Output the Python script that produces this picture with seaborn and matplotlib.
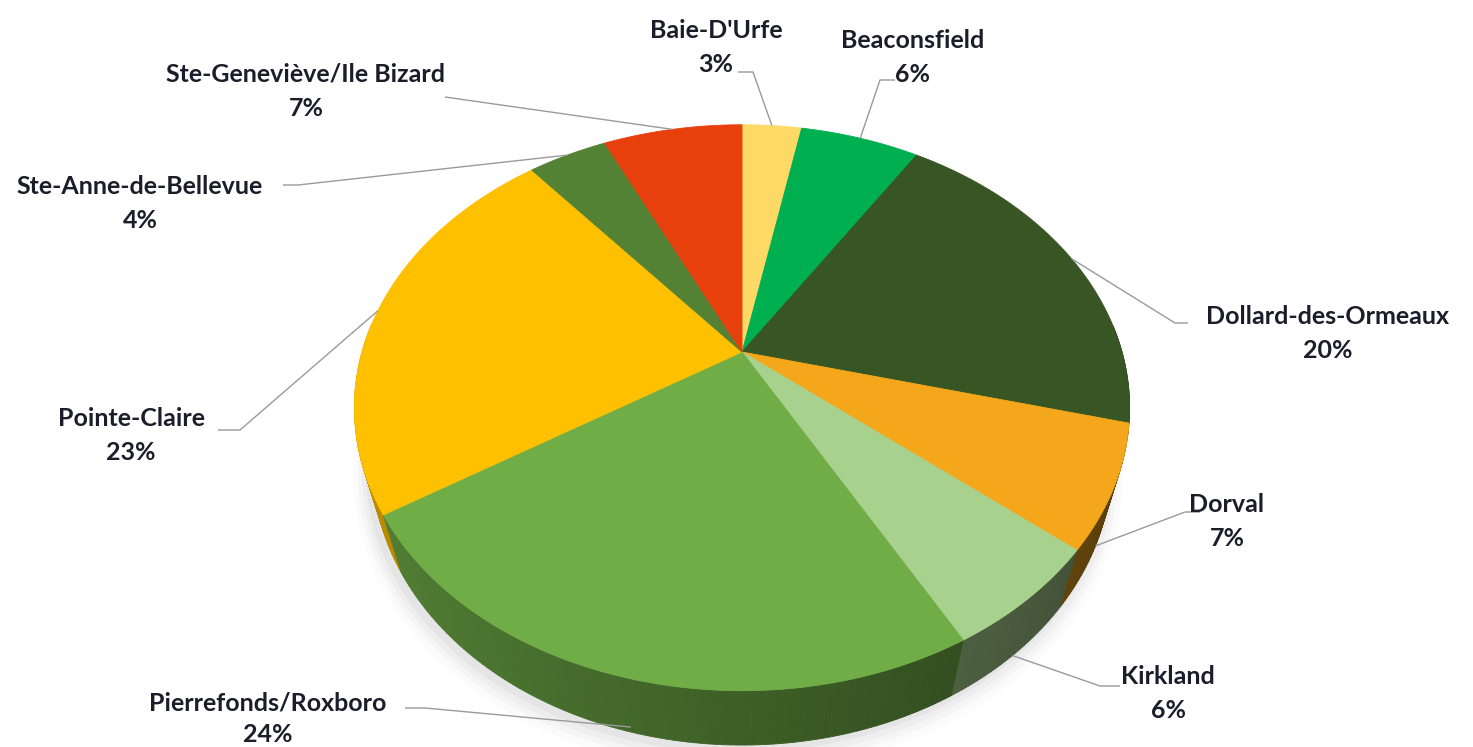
import numpy as np
import matplotlib
matplotlib.use("Agg")
import matplotlib.pyplot as plt
import seaborn as sns

# --- data ---
districts = ["Baie-D'Urfe", "Beaconsfield", "Dollard-des-Ormeaux", "Dorval", "Kirkland",
             "Pierrefonds/Roxboro", "Pointe-Claire", "Ste-Anne-de-Bellevue",
             "Ste-Geneviève/Ile Bizard"]
shares = [3, 6, 20, 7, 6, 24, 23, 4, 7]
slice_colors = ["#FFD966", "#00B050", "#375623", "#F4A71A", "#A9D18E",
                "#70AD47", "#FFC000", "#548235", "#E8400C"]

# --- label layout (pixel coords): text centre, leader start, leader elbow, anchor depth ---
label_layout = {
    "Baie-D'Urfe": ((716, 30), (738, 72), (753, 72), 0.0),
    "Beaconsfield": ((913, 40), (895, 80), (880, 80), 0.0),
    "Dollard-des-Ormeaux": ((1328, 316), (1188, 323), (1175, 323), 0.0),
    "Dorval": ((1227, 505), (1200, 512), (1185, 512), 1.0),
    "Kirkland": ((1168, 677), (1120, 686), (1100, 686), 1.0),
    "Pierrefonds/Roxboro": ((268, 703), (405, 708), (425, 708), 0.9),
    "Pointe-Claire": ((131, 418), (218, 430), (240, 430), 0.0),
    "Ste-Anne-de-Bellevue": ((140, 186), (283, 185), (298, 185), 0.0),
    "Ste-Geneviève/Ile Bizard": ((306, 74), (445, 97), (445, 97), 0.0),
}

W, H = 1473, 747
CX, CY = 742, 352          # apex of the pie
RX, RY = 380, 272          # radii of the tilted disc
K = 0.197                  # perspective strength
Q = 0.0475                 # extra distance of the bottom face
DROP = 62.3                # thickness of the pie


def project(theta, depth=0.0):
    u, v = np.cos(theta), np.sin(theta)
    s = 1.0 + K * v + Q * depth
    return CX + RX * u / s, CY - (RY * v - DROP * depth) / s


sns.set_theme(style="white")
plt.rcParams['font.family'] = ['Lato', 'DejaVu Sans']
palette = sns.color_palette(slice_colors)

fig = plt.figure(figsize=(W / 100, H / 100), dpi=100)
ax = fig.add_axes([0, 0, 1, 1])
ax.set_xlim(0, W)
ax.set_ylim(H, 0)
ax.axis('off')

fractions = np.array(shares, dtype=float) / sum(shares)
starts = np.concatenate([[0], np.cumsum(fractions)[:-1]])
ends = starts + fractions

# soft shadow under the pie
ring = np.linspace(0, 2 * np.pi, 300)
for grow, alpha in [(16, 0.025), (11, 0.035), (7, 0.045), (3, 0.06)]:
    sx, sy = project(ring, 1.0)
    ax.fill(CX + (sx - CX) * (1 + grow / RX) - 4, CY + (sy - CY) * (1 + grow / RY) + 3,
            color="#555555", alpha=alpha, lw=0)

# side wall, drawn far to near
quads = []
for frac0, frac1, col in zip(starts, ends, palette):
    n = max(3, int(frac1 * 400 - frac0 * 400))
    th = np.pi / 2 - 2 * np.pi * np.linspace(frac0, frac1, n)
    for t0, t1 in zip(th[:-1], th[1:]):
        tm = 0.5 * (t0 + t1)
        if np.sin(tm) > 0.1:
            continue
        x0, y0 = project(t0)
        x1, y1 = project(t1)
        x2, y2 = project(t1, 1.0)
        x3, y3 = project(t0, 1.0)
        f = 0.55 - 0.2 * np.cos(tm)
        shade = tuple(np.clip(np.array(col) * f, 0, 1))
        quads.append((np.sin(tm), [x0, x1, x2, x3], [y0, y1, y2, y3], shade))
quads.sort(key=lambda q: -q[0])
for _, xs, ys, shade in quads:
    ax.fill(xs, ys, color=shade, lw=0.6, ec=shade)

# top faces
for frac0, frac1, col in zip(starts, ends, palette):
    n = max(3, int(frac1 * 400 - frac0 * 400))
    th = np.pi / 2 - 2 * np.pi * np.linspace(frac0, frac1, n)
    px, py = project(th)
    ax.fill(np.concatenate([[CX], px]), np.concatenate([[CY], py]),
            color=col, lw=0.6, ec=col)

# labels and leader lines
for name, share, frac0, frac1 in zip(districts, shares, starts, ends):
    (tx, ty), (lx, ly), (ex, ey), d = label_layout[name]
    mid = np.pi / 2 - 2 * np.pi * (frac0 + frac1) / 2
    axp, ayp = project(mid, d)
    ax.plot([lx, ex, axp], [ly, ey, ayp], color="#9a9a9a", lw=1.0,
            solid_capstyle='butt')
    gap = 31 if ty > 690 else 34
    ax.text(tx, ty, name, ha='center', va='center', fontsize=18,
            fontweight='bold', color="#1c1c2a")
    ax.text(tx, ty + gap, f"{share}%", ha='center', va='center', fontsize=18,
            fontweight='bold', color="#1c1c2a")

fig.savefig("out.png", dpi=100)
